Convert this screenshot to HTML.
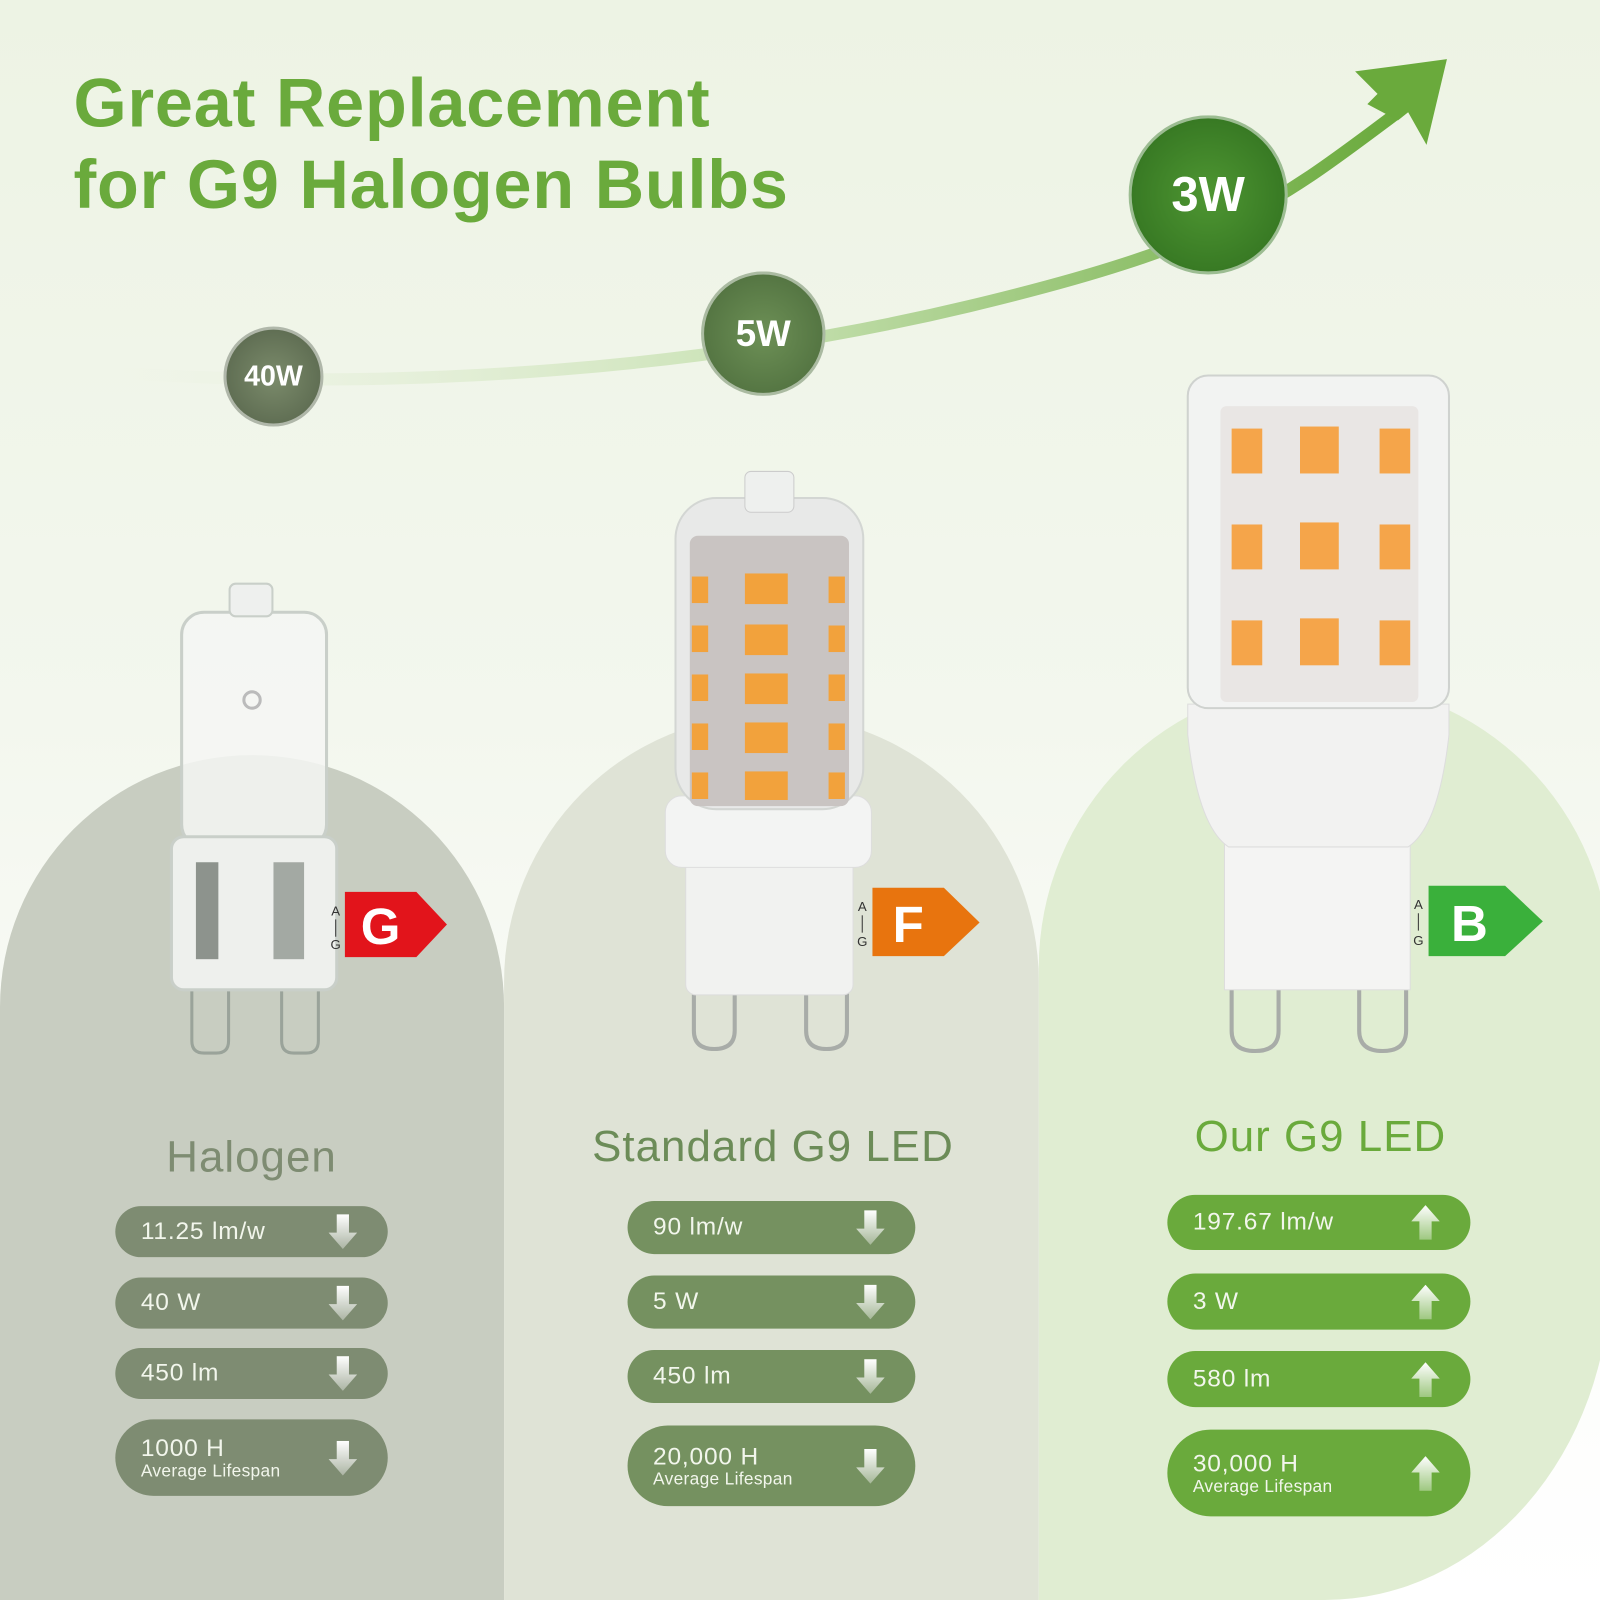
<!DOCTYPE html>
<html><head><meta charset="utf-8"><style>
*{margin:0;padding:0;box-sizing:border-box}
body{width:1600px;height:1600px;overflow:hidden;background:#fff;font-family:"Liberation Sans",Arial,sans-serif}
#w{width:1568px;height:1568px;transform:scale(1.020408);transform-origin:0 0;position:relative;background:linear-gradient(#edf3e4 0%,#f3f7ee 45%,#fbfcf9 75%,#fff 100%);overflow:hidden}
.a{position:absolute}
.panel{position:absolute}
.pill{position:absolute;border-radius:30px;color:#f2f6ec;font-size:24px;letter-spacing:0.8px;padding-left:25px;display:flex;flex-direction:column;justify-content:center}
.pill small{font-size:17px;margin-top:-2px;letter-spacing:0.3px}
.pill .ar{position:absolute;right:30px;top:50%;margin-top:-17px;width:28px;height:34px}
.t{position:absolute;font-size:43px;text-align:center;letter-spacing:1px}
.circ{position:absolute;border-radius:50%;color:#fff;font-weight:bold;display:flex;align-items:center;justify-content:center;border:3px solid rgba(255,255,255,.5)}
</style></head><body><div id="w">
<div class="a" style="left:72px;top:62px;font-size:67px;font-weight:bold;color:#6aaa3c;line-height:80px;letter-spacing:0.8px">Great Replacement<br>for G9 Halogen Bulbs</div>

<div class="panel" style="left:0;top:740px;width:494px;height:900px;background:#c8cdc1;border-radius:250px 250px 0 0/250px 250px 0 0"></div>
<div class="panel" style="left:494px;top:700px;width:524px;height:900px;background:#dfe3d6;border-radius:262px 262px 0 0/262px 262px 0 0"></div>
<div class="panel" style="left:1018px;top:668px;width:560px;height:900px;background:#e0edd2;border-radius:280px 280px 280px 0/280px 280px 320px 0"></div>

<svg class="a" style="left:0;top:0" width="1568" height="1100">
<defs><linearGradient id="lg" x1="0" x2="1"><stop offset="0" stop-color="#e6efd9" stop-opacity="0"/><stop offset=".5" stop-color="#c9e2b4"/><stop offset="1" stop-color="#6aaa3c"/></linearGradient></defs>
<path d="M110 365 C 400 385, 700 360, 950 300 S 1250 200, 1370 110" stroke="url(#lg)" stroke-width="12" fill="none"/>
<polygon points="1418,58 1328,70 1350,92 1340,102 1370,118 1380,110 1398,142" fill="#6aaa3c"/>
<g fill="none" stroke="#9aa39a" stroke-width="3">
<path d="M188 1020 v-55 h36 v55 q0 12 -12 12 h-12 q-12 0 -12 -12z"/>
<path d="M276 1020 v-55 h36 v55 q0 12 -12 12 h-12 q-12 0 -12 -12z"/>
</g>
<rect x="178" y="600" width="142" height="230" rx="22" fill="#f4f6f3" fill-opacity=".85" stroke="#c9cfc9" stroke-width="3"/>
<rect x="168" y="820" width="162" height="150" rx="12" fill="#eef0ed" stroke="#c9cfc9" stroke-width="3"/>
<rect x="192" y="845" width="22" height="95" fill="#8d938d"/><rect x="268" y="845" width="30" height="95" fill="#a3a9a3"/>
<rect x="225" y="572" width="42" height="32" rx="6" fill="#eef0ee" stroke="#c9cfc9" stroke-width="2"/>
<circle cx="247" cy="686" r="8" fill="none" stroke="#bbb" stroke-width="3"/>
<g fill="none" stroke="#a8aca8" stroke-width="4">
<path d="M680 1010 v-50 h40 v50 q0 18 -20 18 q-20 0 -20 -18z"/>
<path d="M790 1010 v-50 h40 v50 q0 18 -20 18 q-20 0 -20 -18z"/>
</g>
<rect x="672" y="830" width="164" height="145" rx="10" fill="#f1f2f0" stroke="#ddd"/>
<rect x="652" y="780" width="202" height="70" rx="16" fill="#f3f4f3" stroke="#ddd"/>
<rect x="662" y="488" width="184" height="305" rx="40" fill="#e8e9e8" stroke="#d3d6d3" stroke-width="2"/>
<rect x="676" y="525" width="156" height="265" rx="8" fill="#c9c4c2"/>
<rect x="730" y="462" width="48" height="40" rx="6" fill="#eef0ee" stroke="#ccc"/>
<g fill="#f2a23c">
<rect x="730" y="562" width="42" height="30"/><rect x="730" y="612" width="42" height="30"/><rect x="730" y="660" width="42" height="30"/><rect x="730" y="708" width="42" height="30"/><rect x="730" y="756" width="42" height="28"/>
<rect x="678" y="565" width="16" height="26"/><rect x="678" y="613" width="16" height="26"/><rect x="678" y="661" width="16" height="26"/><rect x="678" y="709" width="16" height="26"/><rect x="678" y="757" width="16" height="26"/>
<rect x="812" y="565" width="16" height="26"/><rect x="812" y="613" width="16" height="26"/><rect x="812" y="661" width="16" height="26"/><rect x="812" y="709" width="16" height="26"/><rect x="812" y="757" width="16" height="26"/>
</g>
<g fill="none" stroke="#a8aca8" stroke-width="4">
<path d="M1207 1010 v-50 h46 v50 q0 20 -23 20 q-23 0 -23 -20z"/>
<path d="M1332 1010 v-50 h46 v50 q0 20 -23 20 q-23 0 -23 -20z"/>
</g>
<rect x="1200" y="820" width="182" height="150" fill="#f4f4f3" stroke="#ddd"/>
<path d="M1164 690 h256 v30 q-10 90 -40 110 h-176 q-30 -20 -40 -110z" fill="#f2f2f1" stroke="#ddd"/>
<rect x="1164" y="368" width="256" height="326" rx="20" fill="#f2f3f2" stroke="#cfd2cf" stroke-width="2"/>
<rect x="1196" y="398" width="194" height="290" rx="6" fill="#e9e6e4"/>
<g fill="#f5a54a">
<rect x="1207" y="420" width="30" height="44"/><rect x="1274" y="418" width="38" height="46"/><rect x="1352" y="420" width="30" height="44"/>
<rect x="1207" y="514" width="30" height="44"/><rect x="1274" y="512" width="38" height="46"/><rect x="1352" y="514" width="30" height="44"/>
<rect x="1207" y="608" width="30" height="44"/><rect x="1274" y="606" width="38" height="46"/><rect x="1352" y="608" width="30" height="44"/>
</g>
<polygon points="338,874 408,874 438,906 408,938 338,938" fill="#e2141b"/>
<text x="373" y="925" font-size="50" font-weight="bold" fill="#fff" text-anchor="middle" font-family="Liberation Sans">G</text>
<text x="329" y="897" font-size="13" fill="#333" text-anchor="middle">A</text><text x="329" y="930" font-size="13" fill="#333" text-anchor="middle">G</text><line x1="329" y1="901" x2="329" y2="918" stroke="#333"/>
<polygon points="855,870 925,870 960,904 925,937 855,937" fill="#e8740e"/>
<text x="890" y="923" font-size="50" font-weight="bold" fill="#fff" text-anchor="middle">F</text>
<text x="845" y="893" font-size="13" fill="#333" text-anchor="middle">A</text><text x="845" y="927" font-size="13" fill="#333" text-anchor="middle">G</text><line x1="845" y1="897" x2="845" y2="914" stroke="#333"/>
<polygon points="1400,868 1475,868 1512,903 1475,937 1400,937" fill="#3ab03b"/>
<text x="1440" y="922" font-size="50" font-weight="bold" fill="#fff" text-anchor="middle">B</text>
<text x="1390" y="891" font-size="13" fill="#333" text-anchor="middle">A</text><text x="1390" y="926" font-size="13" fill="#333" text-anchor="middle">G</text><line x1="1390" y1="895" x2="1390" y2="912" stroke="#333"/>
</svg>

<div class="circ" style="left:219px;top:320px;width:98px;height:98px;background:radial-gradient(#7b8b6b,#55634a);font-size:28px">40W</div>
<div class="circ" style="left:687px;top:266px;width:122px;height:122px;background:radial-gradient(#6d9056,#4b6b3b);font-size:36px">5W</div>
<div class="circ" style="left:1106px;top:113px;width:156px;height:156px;background:radial-gradient(#4e9632,#2f6e1e);font-size:48px">3W</div>

<div class="t" style="left:113px;width:267px;top:1110px;color:#7e8c72">Halogen</div>
<div class="t" style="left:540px;width:435px;top:1100px;color:#6c8c58">Standard G9 LED</div>
<div class="t" style="left:1094px;width:400px;top:1090px;color:#6aaa3c">Our G9 LED</div>

<svg width="0" height="0" style="position:absolute"><defs>
<linearGradient id="ag" x1="0" y1="0" x2="0" y2="1"><stop offset="0" stop-color="#fff"/><stop offset="1" stop-color="#fff" stop-opacity=".35"/></linearGradient>
<symbol id="dn" viewBox="0 0 28 34"><polygon points="8,0 20,0 20,18 28,18 14,34 0,18 8,18" fill="url(#ag)"/></symbol>
<symbol id="up" viewBox="0 0 28 34"><polygon points="14,0 28,16 20,16 20,34 8,34 8,16 0,16" fill="url(#ag)"/></symbol>
</defs></svg>

<div class="pill" style="left:113px;top:1182px;width:267px;height:50px;background:#7e8c72">11.25 lm/w<svg class="ar"><use href="#dn"/></svg></div>
<div class="pill" style="left:113px;top:1252px;width:267px;height:50px;background:#7e8c72">40 W<svg class="ar"><use href="#dn"/></svg></div>
<div class="pill" style="left:113px;top:1321px;width:267px;height:50px;background:#7e8c72">450 lm<svg class="ar"><use href="#dn"/></svg></div>
<div class="pill" style="left:113px;top:1391px;width:267px;height:75px;background:#7e8c72;border-radius:38px">1000 H<small>Average Lifespan</small><svg class="ar"><use href="#dn"/></svg></div>

<div class="pill" style="left:615px;top:1177px;width:282px;height:52px;background:#759160">90 lm/w<svg class="ar"><use href="#dn"/></svg></div>
<div class="pill" style="left:615px;top:1250px;width:282px;height:52px;background:#759160">5 W<svg class="ar"><use href="#dn"/></svg></div>
<div class="pill" style="left:615px;top:1323px;width:282px;height:52px;background:#759160">450 lm<svg class="ar"><use href="#dn"/></svg></div>
<div class="pill" style="left:615px;top:1397px;width:282px;height:79px;background:#759160;border-radius:40px">20,000 H<small>Average Lifespan</small><svg class="ar"><use href="#dn"/></svg></div>

<div class="pill" style="left:1144px;top:1171px;width:297px;height:54px;background:#6aaa3c">197.67 lm/w<svg class="ar"><use href="#up"/></svg></div>
<div class="pill" style="left:1144px;top:1248px;width:297px;height:55px;background:#6aaa3c">3 W<svg class="ar"><use href="#up"/></svg></div>
<div class="pill" style="left:1144px;top:1324px;width:297px;height:55px;background:#6aaa3c">580 lm<svg class="ar"><use href="#up"/></svg></div>
<div class="pill" style="left:1144px;top:1401px;width:297px;height:85px;background:#6aaa3c;border-radius:43px">30,000 H<small>Average Lifespan</small><svg class="ar"><use href="#up"/></svg></div>
</div></body></html>
